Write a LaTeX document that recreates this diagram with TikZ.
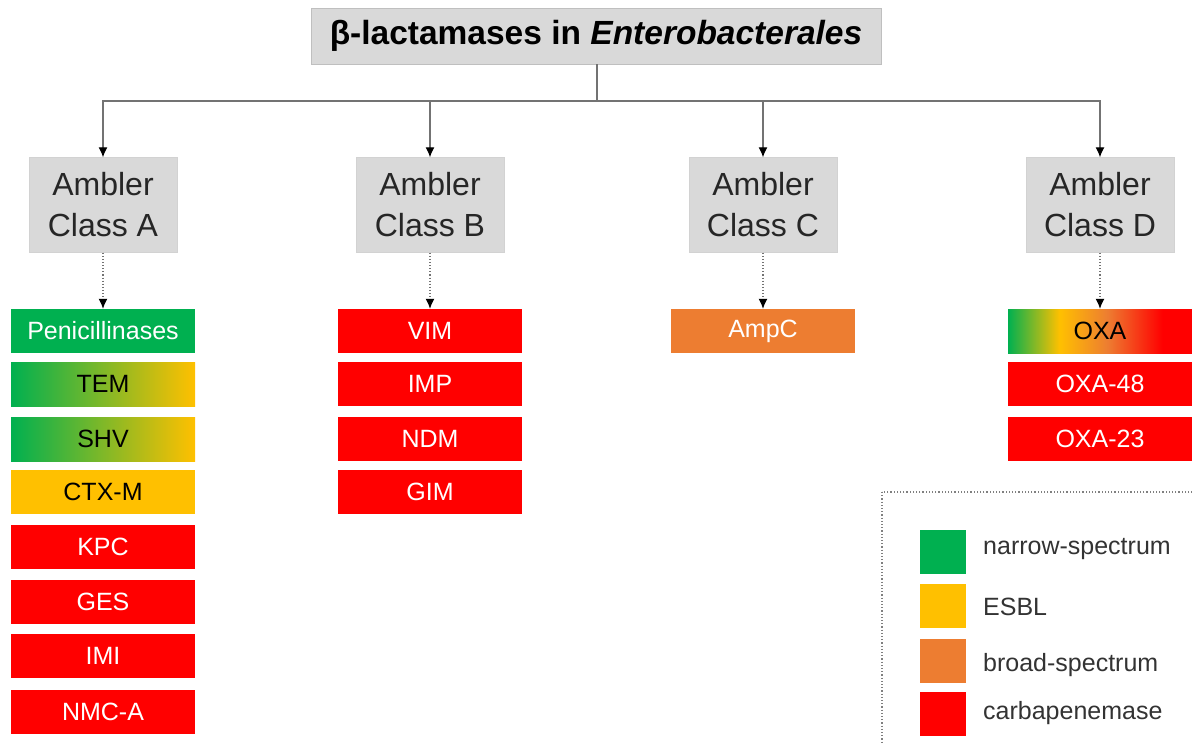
\documentclass[tikz,border=0pt]{standalone}
\usepackage{fontspec}
\setmainfont{Liberation Sans}
\usetikzlibrary{arrows.meta}
\definecolor{nsgreen}{HTML}{00B050}
\definecolor{esblyellow}{HTML}{FFC000}
\definecolor{bsorange}{HTML}{ED7D31}
\definecolor{cpred}{HTML}{FF0000}
\definecolor{boxgray}{HTML}{D9D9D9}
\pgfdeclarehorizontalshading{oxashade}{100bp}{color(0bp)=(nsgreen); color(25bp)=(nsgreen); color(39bp)=(esblyellow); color(52bp)=(bsorange); color(67bp)=(cpred); color(100bp)=(cpred)}

\begin{document}
\begin{tikzpicture}[x=1pt,y=-1pt]
	\tikzstyle{every node}=[inner sep=0pt, font=\fontsize{25}{30}\selectfont]
	\tikzstyle{titlebox}=[draw=gray!50, fill=boxgray, minimum width=570pt, minimum height=56pt, font=\fontsize{33.5}{40}\selectfont]
	\tikzstyle{classbox}=[draw=gray!35, fill=boxgray, minimum width=148pt, minimum height=95pt, align=center, text=black!85, font=\fontsize{32}{41}\selectfont]
	\tikzstyle{enzbox}=[minimum width=184pt, minimum height=44pt, text=white]
	\tikzstyle{legsq}=[minimum width=46pt, minimum height=44pt]
	\tikzstyle{legtext}=[anchor=west, text=black!80]
	\tikzstyle{link}=[draw=black!55, line width=1.1pt]
	\tikzstyle{tip}=[-{Latex[length=10pt,width=9pt,black]}]
	\useasboundingbox (0,0) rectangle (1192,744);
	% title and classes
	\draw (596,36) node (title) [titlebox] {\textbf{β-lactamases in \textit{Enterobacterales}}};
	\draw (103,205) node (ca) [classbox] {Ambler\\Class A};
	\draw (430,205) node (cb) [classbox] {Ambler\\Class B};
	\draw (763,205) node (cc) [classbox] {Ambler\\Class C};
	\draw (1100,205) node (cd) [classbox] {Ambler\\Class D};
	\coordinate (split) at (597,101);
	\draw[link] (title.south -| split) -- (split);
	\draw[link,tip] (split) -| (ca.north);
	\draw[link,tip] (split) -| (cb.north);
	\draw[link,tip] (split) -| (cc.north);
	\draw[link,tip] (split) -| (cd.north);
	% class A
	\draw (103,331) node (a1) [enzbox,fill=nsgreen] {Penicillinases};
	\draw (103,384) node (a2) [enzbox,left color=nsgreen,right color=esblyellow,text=black] {TEM};
	\draw (103,439) node (a3) [enzbox,left color=nsgreen,right color=esblyellow,text=black] {SHV};
	\draw (103,492) node (a4) [enzbox,fill=esblyellow,text=black] {CTX-M};
	\draw (103,547) node (a5) [enzbox,fill=cpred] {KPC};
	\draw (103,602) node (a6) [enzbox,fill=cpred] {GES};
	\draw (103,656) node (a7) [enzbox,fill=cpred] {IMI};
	\draw (103,712) node (a8) [enzbox,fill=cpred] {NMC-A};
	% class B
	\draw (430,331) node (b1) [enzbox,fill=cpred] {VIM};
	\draw (430,384) node (b2) [enzbox,fill=cpred] {IMP};
	\draw (430,439) node (b3) [enzbox,fill=cpred] {NDM};
	\draw (430,492) node (b4) [enzbox,fill=cpred] {GIM};
	% class C
	\draw (763,331) node (c1) [enzbox,fill=bsorange] {AmpC};
	% class D
	\draw (1100,331) node (d1) [enzbox,shade,shading=oxashade,text=black] {OXA};
	\draw (1100,384) node (d2) [enzbox,fill=cpred] {OXA-48};
	\draw (1100,439) node (d3) [enzbox,fill=cpred] {OXA-23};
	\draw[link,dotted,tip] (ca) -- (a1);
	\draw[link,dotted,tip] (cb) -- (b1);
	\draw[link,dotted,tip] (cc) -- (c1);
	\draw[link,dotted,tip] (cd) -- (d1);
	% legend
	\draw[black!50, dotted, line width=1.2pt] (882,492) rectangle (1220,770);
	\draw (943,552) node (l1) [legsq,fill=nsgreen] {};
	\draw (943,606) node (l2) [legsq,fill=esblyellow] {};
	\draw (943,661) node (l3) [legsq,fill=bsorange] {};
	\draw (943,714) node (l4) [legsq,fill=cpred] {};
	\draw (983,549) node (t1) [legtext] {narrow-spectrum};
	\draw (983,607) node (t2) [legtext] {ESBL};
	\draw (983,665) node (t3) [legtext] {broad-spectrum};
	\draw (983,713) node (t4) [legtext] {carbapenemase};
\end{tikzpicture}
\end{document}
